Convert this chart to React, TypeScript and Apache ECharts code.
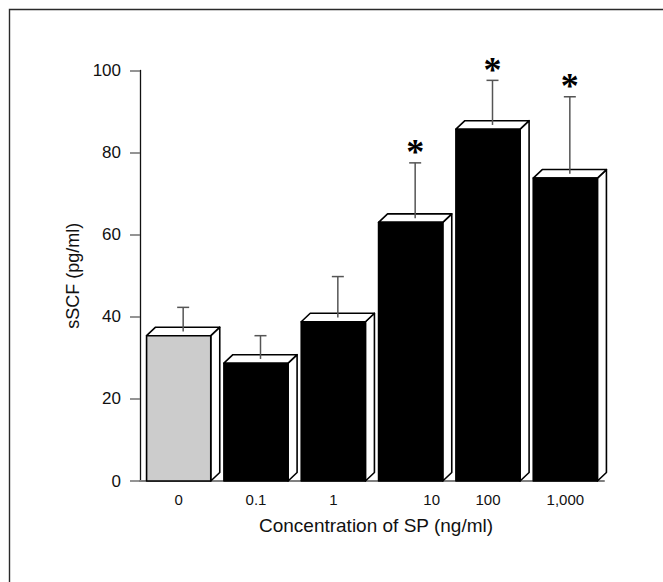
import React, { useEffect, useRef } from "react";
import * as echarts from "echarts";

const categories = ["0", "0.1", "1", "10", "100", "1,000"];
const means = [35.4, 28.7, 38.8, 63.0, 85.7, 73.8];
const errorTops = [42.3, 35.4, 49.8, 77.5, 97.6, 93.6];
const significant = [false, false, false, true, true, true];
const isControl = [true, false, false, false, false, false];
const yMin = 0;
const yMax = 100;
const yInterval = 20;

const DX = 9;
const DY = 8.5;

export default function App() {
  const ref = useRef<HTMLDivElement>(null);
  useEffect(() => {
    if (!ref.current) return;
    const chart = echarts.init(ref.current, null, { renderer: "svg" });
    const barData = categories.map((_, i) => [i, means[i], isControl[i] ? 1 : 0]);
    const errData = categories.map((_, i) => [i, means[i], errorTops[i], significant[i] ? 1 : 0]);
    chart.setOption({
      animation: false,
      backgroundColor: "#ffffff",
      graphic: [
        {
          type: "rect",
          left: 7,
          top: 7,
          shape: { width: 720, height: 700 },
          style: { fill: "none", stroke: "#2a2a2a", lineWidth: 1.4 },
          silent: true,
        },
      ],
      grid: { left: 140, right: 59, top: 70.5, bottom: 101 },
      xAxis: {
        type: "category",
        data: categories,
        boundaryGap: true,
        axisLine: { show: true, lineStyle: { color: "#808080", width: 2 } },
        axisTick: { show: false },
        axisLabel: {
          interval: 0,
          fontSize: 15,
          color: "#111",
          fontFamily: "Liberation Sans",
          margin: 11,
          formatter: (v: string, idx: number) => (idx === 3 ? `{s|${v}}` : `{n|${v}}`),
          rich: {
            n: { fontSize: 15, color: "#111", fontFamily: "Liberation Sans" },
            s: { fontSize: 15, color: "#111", fontFamily: "Liberation Sans", padding: [0, 0, 0, 42] },
          },
        },
        name: "Concentration of SP (ng/ml)",
        nameLocation: "middle",
        nameGap: 35,
        nameTextStyle: { fontSize: 19, color: "#111", fontFamily: "Liberation Sans", padding: [0, 0, 0, 8] },
        splitLine: { show: false },
      },
      yAxis: {
        type: "value",
        min: yMin,
        max: yMax,
        interval: yInterval,
        axisLine: { show: true, lineStyle: { color: "#111", width: 1.3 } },
        axisTick: { show: true, length: 10, lineStyle: { color: "#707070", width: 1.5 } },
        axisLabel: { fontSize: 17, color: "#111", fontFamily: "Liberation Sans", margin: 19 },
        splitLine: { show: false },
        name: "sSCF (pg/ml)",
        nameLocation: "middle",
        nameGap: 58,
        nameTextStyle: { fontSize: 18, color: "#111", fontFamily: "Liberation Sans" },
      },
      series: [
        {
          type: "custom",
          data: barData,
          encode: { x: 0, y: 1 },
          z: 2,
          renderItem: (params: any, api: any) => {
            const i = api.value(0);
            const v = api.value(1);
            const ctrl = api.value(2) === 1;
            const top = api.coord([i, v]);
            const base = api.coord([i, 0]);
            const band = api.size([1, 0])[0];
            const w = band * 0.83;
            const x0 = top[0] - w / 2;
            const x1 = x0 + w;
            const yt = top[1];
            const yb = base[1];
            const stroke = { stroke: "#000", lineWidth: 1.6, lineJoin: "round" };
            return {
              type: "group",
              children: [
                {
                  type: "polygon",
                  shape: { points: [[x1, yt], [x1 + DX, yt - DY], [x1 + DX, yb - DY], [x1, yb]] },
                  style: { fill: "#fff", ...stroke },
                },
                {
                  type: "polygon",
                  shape: { points: [[x0, yt], [x0 + DX, yt - DY], [x1 + DX, yt - DY], [x1, yt]] },
                  style: { fill: "#fff", ...stroke },
                },
                {
                  type: "polygon",
                  shape: { points: [[x0, yb], [x0, yt], [x1, yt], [x1, yb]] },
                  style: { fill: ctrl ? "#cccccc" : "#000", ...stroke },
                },
              ],
            };
          },
        },
        {
          type: "custom",
          data: errData,
          encode: { x: 0, y: [1, 2] },
          z: 3,
          renderItem: (params: any, api: any) => {
            const i = api.value(0);
            const v = api.value(1);
            const e = api.value(2);
            const sig = api.value(3) === 1;
            const top = api.coord([i, v]);
            const et = api.coord([i, e]);
            const x = top[0] + DX / 2;
            const y0 = top[1] - DY / 2;
            const y1 = et[1];
            const ls = { stroke: "#555", lineWidth: 1.5 };
            const children: any[] = [
              { type: "line", shape: { x1: x, y1: y0, x2: x, y2: y1 }, style: ls },
              { type: "line", shape: { x1: x - 6, y1: y1, x2: x + 6, y2: y1 }, style: ls },
            ];
            if (sig) {
              children.push({
                type: "text",
                style: {
                  text: "*",
                  x: x,
                  y: y1 - 10.5,
                  align: "center",
                  verticalAlign: "middle",
                  fontSize: 36,
                  fontWeight: "bold",
                  fontFamily: "Liberation Serif",
                  fill: "#000",
                },
              });
            }
            return { type: "group", children };
          },
        },
      ],
    });
    return () => chart.dispose();
  }, []);
  return (
    <div
      ref={ref}
      style={{ position: "fixed", left: 0, top: 0, width: 663, height: 582, background: "#fff" }}
    />
  );
}
